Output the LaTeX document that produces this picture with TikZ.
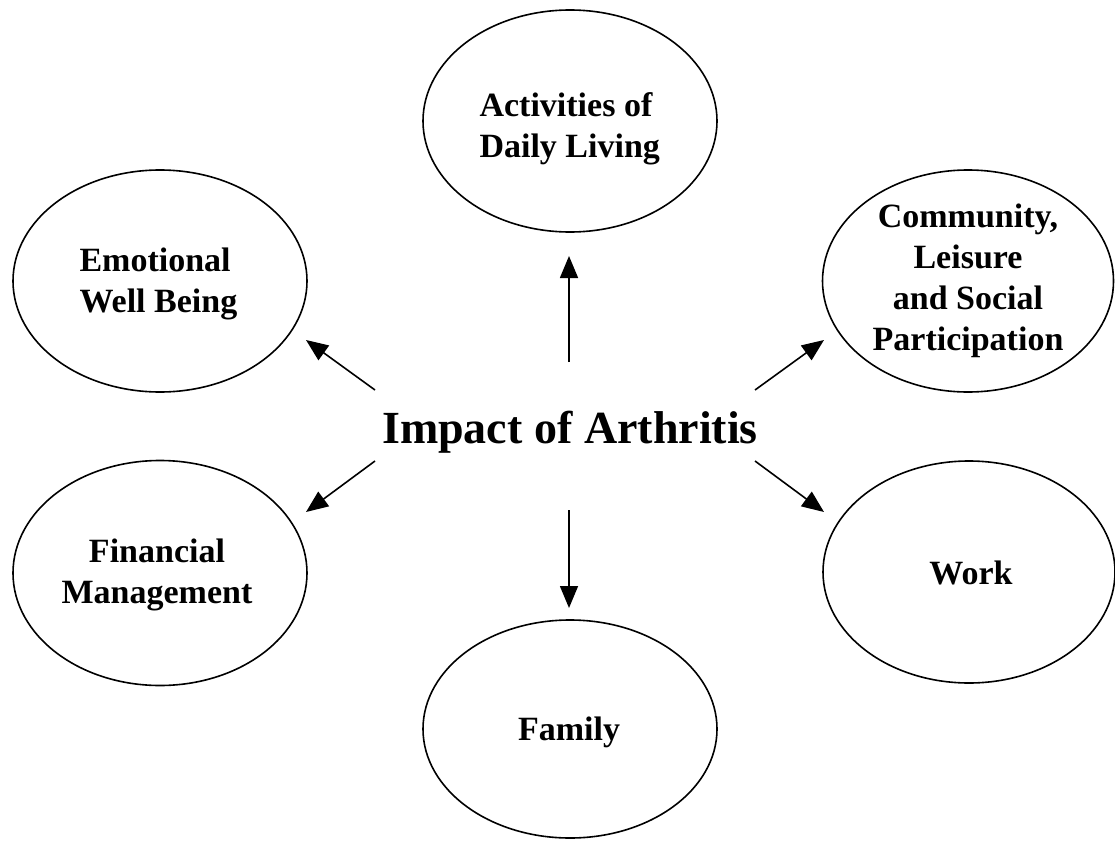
\documentclass[tikz,border=0pt]{standalone}
\usepackage{fontspec}
\setmainfont{Liberation Serif}
\usetikzlibrary{shapes.geometric,arrows.meta}
\tikzset{
  area/.style={draw, line width=1.6pt, ellipse, inner sep=0pt,
               minimum width=294pt, minimum height=222pt},
  lbl/.style={font=\fontsize{34}{41}\selectfont\bfseries, align=center},
  lbll/.style={font=\fontsize{34}{41}\selectfont\bfseries, align=left, anchor=west},
  impact/.style={-{Triangle[length=22pt,width=18pt]}, line width=1.6pt}
}
\begin{document}
\begin{tikzpicture}[x=1pt,y=-1pt]
\useasboundingbox (0,0) rectangle (1115,840);
% outcome areas
\node[area] (adl) at (570,121) {};
\node[area] (emo) at (160,281) {};
\node[area, minimum width=291pt] (com) at (968,281) {};
\node[area, minimum height=225pt] (fin) at (160,573) {};
\node[area, minimum width=292pt] (wrk) at (969,572) {};
\node[area, minimum height=218pt] (fam) at (570,729) {};
% labels
\node[lbll] (adlT) at (476,129) {Activities of\\Daily Living};
\node[lbll] (emoT) at (76,284) {Emotional\\Well Being};
\node[lbl] (comT) at (968,281) {Community,\\Leisure\\and Social\\Participation};
\node[lbl] (finT) at (157,575) {Financial\\Management};
\node[lbl] (wrkT) at (971,573) {Work};
\node[lbl] (famT) at (569,732) {Family};
% centre
\node[font=\fontsize{46}{52}\selectfont\bfseries] (ctr) at (570,432) {Impact of Arthritis};
% arrow end points
\coordinate (uS) at (569,362); \coordinate (uE) at (569,256);
\coordinate (dS) at (569,510); \coordinate (dE) at (569,608);
\coordinate (ulS) at (375,390); \coordinate (ulE) at (306,340);
\coordinate (urS) at (755,390); \coordinate (urE) at (824,340);
\coordinate (llS) at (375,461); \coordinate (llE) at (306,512);
\coordinate (lrS) at (755,461); \coordinate (lrE) at (824,512);
\draw[impact] (uS) -- (uE);
\draw[impact] (dS) -- (dE);
\draw[impact] (ulS) -- (ulE);
\draw[impact] (urS) -- (urE);
\draw[impact] (llS) -- (llE);
\draw[impact] (lrS) -- (lrE);
\end{tikzpicture}
\end{document}
